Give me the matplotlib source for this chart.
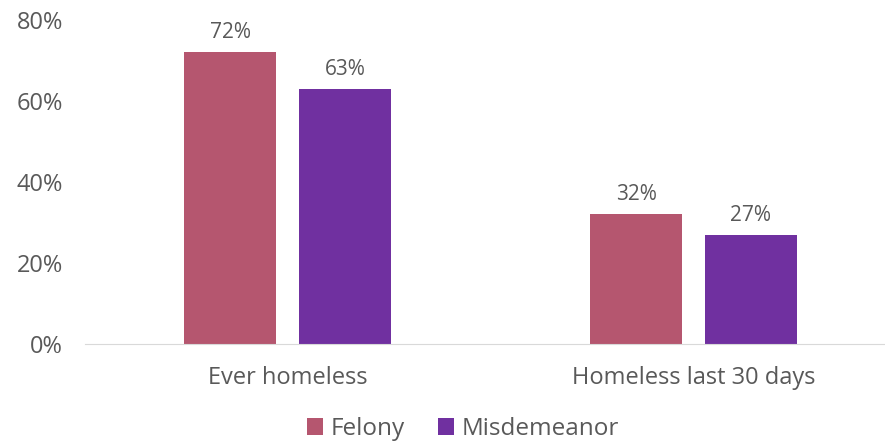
import numpy as np
import matplotlib.pyplot as plt
plt.switch_backend('agg')

plt.rcParams['font.family'] = ['Open Sans', 'DejaVu Sans']

categories = ["Ever homeless", "Homeless last 30 days"]
felony = [72, 32]
misdemeanor = [63, 27]
series_names = ["Felony", "Misdemeanor"]
colors = ["#B5566F", "#7030A0"]
text_col = "#595959"

fig = plt.figure(figsize=(8.85, 4.42), dpi=100)
ax = fig.add_axes([85 / 885, 98 / 442, 800 / 885, 324 / 442])

x = np.arange(len(categories))
w = 0.227
off = 0.1416
for vals, col, name, d in zip([felony, misdemeanor], colors, series_names, [-off, off]):
    bars = ax.bar(x + d, np.array(vals) / 100, width=w, color=col, label=name)
    for b, v in zip(bars, vals):
        ax.text(b.get_x() + b.get_width() / 2, v / 100 + 0.022, "{}%".format(v),
                ha='center', va='bottom', fontsize=15, color=text_col)

ax.set_ylim(0, 0.8)
ax.set_xlim(-0.5, 1.472)
ax.set_yticks([0, 0.2, 0.4, 0.6, 0.8])
ax.set_yticklabels(["0%", "20%", "40%", "60%", "80%"])
ax.set_xticks(x)
ax.set_xticklabels(categories)
ax.tick_params(axis='both', length=0, labelsize=17, colors=text_col)
ax.tick_params(axis='y', pad=16)
ax.tick_params(axis='x', pad=16)

for s in ['top', 'right', 'left']:
    ax.spines[s].set_visible(False)
ax.spines['bottom'].set_color("#D9D9D9")

fig.legend(loc='center', bbox_to_anchor=(463 / 885, 1 - 429 / 442), ncol=2,
           frameon=False, fontsize=17.5, handlelength=0.65, handleheight=0.65,
           handletextpad=0.3, columnspacing=1.4, labelcolor=text_col)

plt.savefig("out.png", dpi=100)
